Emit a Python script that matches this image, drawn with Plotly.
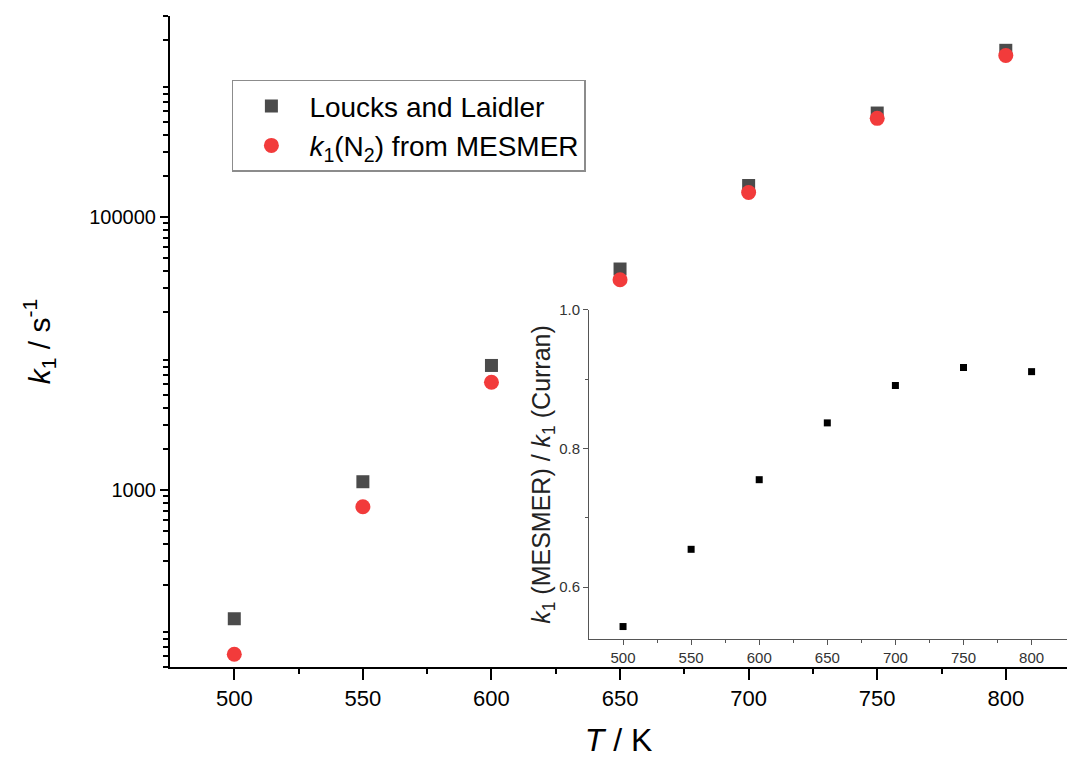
import math
import plotly.graph_objects as go

# ---- data ----
T = [500, 550, 600, 650, 700, 750, 800]
k_loucks = [113, 1145, 8170, 41700, 171000, 582000, 1680000]
k_mesmer = [62, 750, 6150, 34800, 152000, 532000, 1540000]
ratio_T = [500, 550, 600, 650, 700, 750, 800]
ratio = [0.543, 0.6545, 0.755, 0.837, 0.891, 0.917, 0.911]

x_ticks = [500, 550, 600, 650, 700, 750, 800]
x_minor = [525, 575, 625, 675, 725, 775]
y_labeled = [1000, 100000]
y_labeled_text = ["1000", "100000"]
y_unlabeled = [100, 10000, 1000000]
y_minor = [m * 10 ** e for e in range(1, 7) for m in range(2, 10)]
inset_y_ticks = [0.6, 0.8, 1.0]
inset_y_text = ["0.6", "0.8", "1.0"]
inset_y_minor = [0.7, 0.9]

FONT = "Arial, Liberation Sans, sans-serif"
Y_RANGE = [math.log10(50), math.log10(3e6)]

fig = go.Figure()
fig.add_trace(go.Scatter(
    x=T, y=k_loucks, mode="markers", name="Loucks and Laidler",
    marker=dict(symbol="square", size=13, color="#4b4b4b"),
    xaxis="x", yaxis="y"))
fig.add_trace(go.Scatter(
    x=T, y=k_mesmer, mode="markers",
    name="<i>k</i><sub>1</sub>(N<sub>2</sub>) from MESMER",
    marker=dict(symbol="circle", size=15, color="#f23b3b"),
    xaxis="x", yaxis="y"))
fig.add_trace(go.Scatter(
    x=ratio_T, y=ratio, mode="markers", showlegend=False,
    marker=dict(symbol="square", size=7, color="black"),
    xaxis="x2", yaxis="y2"))

fig.update_layout(
    template="none",
    width=1067, height=758,
    margin=dict(l=170, r=0, t=16, b=91),
    paper_bgcolor="white", plot_bgcolor="rgba(0,0,0,0)",
    font=dict(family=FONT, color="black"),
    showlegend=True,
    legend=dict(x=0.069, y=0.902, xanchor="left", yanchor="top",
                bordercolor="#8c8c8c", borderwidth=1.5, bgcolor="white",
                font=dict(size=28, family=FONT), itemwidth=66,
                tracegroupgap=0),
    xaxis=dict(
        domain=[0, 1], range=[475, 823.8], anchor="y",
        tickmode="array", tickvals=x_ticks,
        ticks="outside", ticklen=11, tickwidth=2, tickcolor="black",
        showline=True, linewidth=2, linecolor="black",
        showgrid=False, zeroline=False, mirror=False,
        tickfont=dict(size=22),
        minor=dict(tickmode="array", tickvals=x_minor, ticks="outside",
                   ticklen=5, tickwidth=2, tickcolor="black", showgrid=False),
        title=dict(text="<i>T</i> / K", font=dict(size=32), standoff=25),
        automargin=False),
    yaxis=dict(
        domain=[0, 1], type="log", anchor="x", range=Y_RANGE,
        tickmode="array", tickvals=y_labeled, ticktext=y_labeled_text,
        ticks="outside", ticklen=8, tickwidth=2, tickcolor="black",
        showline=True, linewidth=2, linecolor="black",
        showgrid=False, zeroline=False,
        tickfont=dict(size=20),
        minor=dict(tickmode="array", tickvals=y_minor, ticks="outside",
                   ticklen=5, tickwidth=2, tickcolor="black", showgrid=False),
        title=dict(text="<i>k</i><sub>1</sub> / s<sup>-1</sup>",
                   font=dict(size=30), standoff=30),
        automargin=False),
    yaxis3=dict(
        domain=[0, 1], type="log", anchor="x", overlaying="y", range=Y_RANGE,
        tickmode="array", tickvals=y_unlabeled, showticklabels=False,
        ticks="outside", ticklen=8, tickwidth=2, tickcolor="black",
        showline=False, showgrid=False, zeroline=False, automargin=False),
    xaxis2=dict(
        domain=[0.4671, 1.0], range=[475, 826], anchor="y2",
        tickmode="array", tickvals=x_ticks,
        ticks="outside", ticklen=5, tickwidth=1, tickcolor="#555555",
        showline=True, linewidth=1, linecolor="#555555",
        showgrid=False, zeroline=False,
        tickfont=dict(size=15, color="#333333"),
        minor=dict(tickmode="array", tickvals=x_minor, ticks="outside",
                   ticklen=3, tickwidth=1, tickcolor="#555555", showgrid=False),
        automargin=False),
    yaxis2=dict(
        domain=[0.043, 0.5484], range=[0.525, 1.0], anchor="x2",
        tickmode="array", tickvals=inset_y_ticks, ticktext=inset_y_text,
        ticks="outside", ticklen=5, tickwidth=1, tickcolor="#555555",
        showline=True, linewidth=1, linecolor="#555555",
        showgrid=False, zeroline=False,
        tickfont=dict(size=15, color="#333333"),
        minor=dict(tickmode="array", tickvals=inset_y_minor, ticks="outside",
                   ticklen=3, tickwidth=1, tickcolor="#555555", showgrid=False),
        title=dict(text="<i>k</i><sub>1</sub> (MESMER) / <i>k</i><sub>1</sub> (Curran)",
                   font=dict(size=25, color="#222222"), standoff=1),
        automargin=False),
)

fig.write_html("out.html",
               config={"displayModeBar": False},
               post_script="document.body.style.margin='0';document.body.style.overflow='hidden';")
